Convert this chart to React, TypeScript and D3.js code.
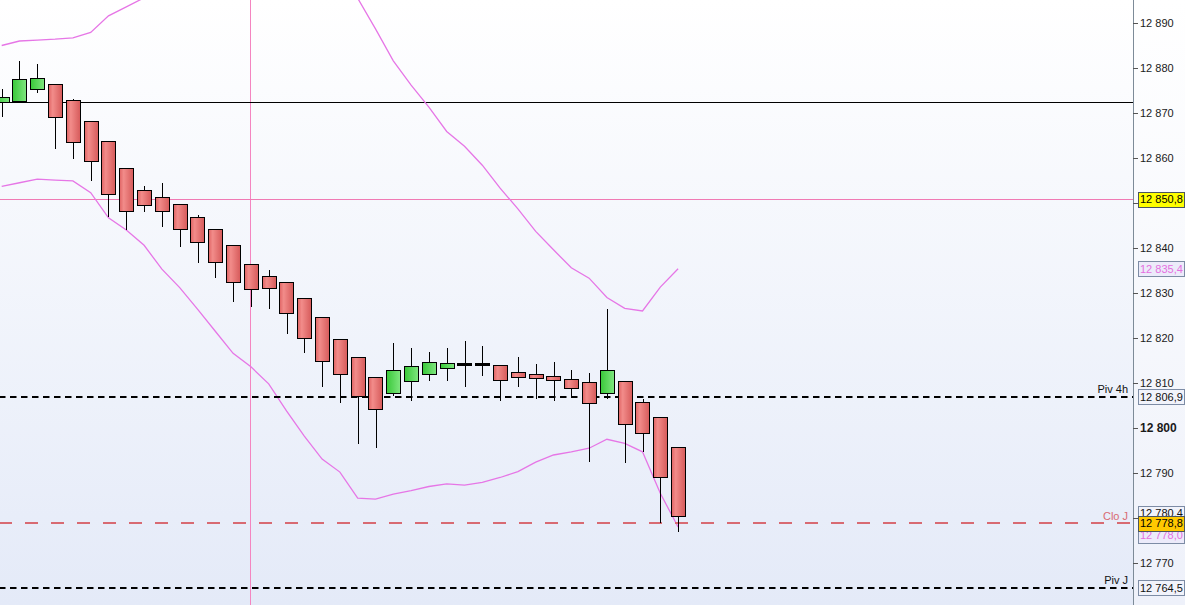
import * as d3 from "d3";

// candle data (oldest -> newest)
const opens = [
  12872.4, 12872.7, 12875.3, 12876.4, 12872.8, 12868.2, 12863.7, 12857.7, 12853.0, 12851.3,
  12849.7, 12846.8, 12844.2, 12840.6, 12836.4, 12833.7, 12832.4, 12829.0, 12824.6, 12819.7,
  12815.7, 12811.3, 12807.7, 12810.4, 12811.9, 12813.3, 12814.1, 12814.1, 12813.9, 12812.4,
  12811.9, 12811.5, 12811.0, 12810.2, 12807.9, 12810.4, 12805.7, 12802.4, 12795.7,
];
const highs = [
  12875.3, 12881.6, 12880.9, 12876.4, 12873.2, 12868.2, 12863.7, 12857.7, 12853.8, 12854.4,
  12849.7, 12847.3, 12844.2, 12840.6, 12836.4, 12835.1, 12832.4, 12829.0, 12824.6, 12819.7,
  12815.7, 12811.3, 12819.0, 12817.8, 12816.9, 12817.8, 12819.3, 12818.2, 12813.9, 12815.7,
  12814.2, 12814.7, 12812.9, 12812.2, 12826.4, 12810.4, 12806.4, 12802.4, 12795.7,
];
const lows = [
  12869.2, 12872.5, 12874.5, 12861.9, 12859.8, 12855.0, 12847.0, 12843.9, 12848.1, 12844.6,
  12840.3, 12836.7, 12833.4, 12828.1, 12827.0, 12826.4, 12821.0, 12816.7, 12809.2, 12805.6,
  12796.4, 12795.5, 12807.2, 12806.1, 12810.5, 12810.5, 12809.2, 12811.6, 12806.1, 12809.1,
  12806.4, 12805.9, 12806.9, 12792.5, 12806.4, 12792.3, 12794.7, 12778.8, 12777.0,
];
const closes = [
  12873.5, 12877.5, 12877.7, 12869.0, 12863.5, 12859.3, 12851.9, 12848.2, 12849.7, 12848.2,
  12844.2, 12841.3, 12836.8, 12832.4, 12830.8, 12831.0, 12825.5, 12820.2, 12814.8, 12811.9,
  12807.0, 12804.2, 12812.8, 12813.7, 12814.6, 12814.4, 12814.1, 12814.1, 12810.6, 12811.4,
  12811.0, 12810.7, 12809.0, 12805.5, 12813.0, 12800.8, 12798.8, 12789.0, 12780.4,
];

// bollinger bands
const upperBand = [
  12885.0, 12886.0, 12886.2, 12886.4, 12886.7, 12887.9, 12891.6, 12893.6, 12895.6, 12898.0,
  12900.0, 12901.5, 12902.5, 12903.0, 12903.0, 12902.5, 12901.5, 12900.0, 12898.5, 12897.0,
  12895.5, 12888.7, 12881.6, 12876.2, 12871.3, 12865.9, 12862.6, 12858.4, 12853.3, 12848.7,
  12843.7, 12839.6, 12835.6, 12833.3, 12829.0, 12826.6, 12826.0, 12831.3, 12835.4,
];
const lowerBand = [
  12853.7, 12854.5, 12855.3, 12855.1, 12854.9, 12852.3, 12846.7, 12844.0, 12840.6, 12835.3,
  12831.2, 12826.4, 12821.5, 12816.6, 12813.6, 12809.8, 12803.8, 12798.2, 12793.1, 12790.2,
  12784.4, 12784.2, 12785.3, 12786.1, 12787.0, 12787.6, 12787.3, 12787.9, 12789.0, 12790.3,
  12792.4, 12794.0, 12794.7, 12795.5, 12797.5, 12796.6, 12794.7, 12785.5, 12778.0,
];

const yTicks = [12890, 12880, 12870, 12860, 12850, 12840, 12830, 12820, 12810, 12800, 12790, 12780, 12770];
const boldTick = 12800;

const blackLevel = 12872.4;
const pinkLevel = 12850.8;
const markerIndex = 14;

const dashedLevels = [
  { value: 12806.9, name: "Piv 4h", color: "#000000", dash: "6.5 4.5", textColor: "#111111" },
  { value: 12778.8, name: "Clo J", color: "#d86a72", dash: "13 13", textColor: "#d86a72" },
  { value: 12764.5, name: "Piv J", color: "#000000", dash: "6.5 4.5", textColor: "#111111" },
];

const priceTags = [
  { value: 12850.8, fill: "#ffff00", stroke: "#4a5560", color: "#000000", nudge: 0 },
  { value: 12835.4, fill: "#ecebfa", stroke: "#7d8ca5", color: "#e56fe0", nudge: 0 },
  { value: 12806.9, fill: "#f1f3fb", stroke: "#7d8ca5", color: "#111111", nudge: 0 },
  { value: 12780.4, fill: "#f1f3fb", stroke: "#7d8ca5", color: "#111111", nudge: -2.7 },
  { value: 12778.0, fill: "#ecebfa", stroke: "#7d8ca5", color: "#e56fe0", nudge: 8.5 },
  { value: 12778.8, fill: "#ffc800", stroke: "#4a5560", color: "#000000", nudge: 0 },
  { value: 12764.5, fill: "#f1f3fb", stroke: "#7d8ca5", color: "#111111", nudge: 0 },
];

const W = 1185;
const H = 605;
const plotRight = 1133;
const font = "'Liberation Sans', Arial, sans-serif";

const locale = d3.formatLocale({ decimal: ",", thousands: " ", grouping: [3], currency: ["", ""] });
const fmtInt = locale.format(",");
const fmtDec = locale.format(",.1f");

export default function App() {
  const x = d3
    .scaleBand<number>()
    .domain(d3.range(64))
    .range([-7.2, plotRight - 1])
    .paddingInner(0.2)
    .paddingOuter(0.1);
  const y = d3.scaleLinear().domain([12770, 12890]).range([563, 23]);
  const bw = x.bandwidth();
  const cx = (i: number) => (x(i) ?? 0) + bw / 2;

  const line = d3
    .line<number>()
    .x((_, i) => cx(i))
    .y((d) => y(d));

  const candles = opens.map((o, i) => ({ o, h: highs[i], l: lows[i], c: closes[i], i }));

  // tick labels hidden behind a price tag are not drawn (as in the platform)
  const tagYs = priceTags.map((p) => y(p.value) + p.nudge);
  const visibleTicks = yTicks.filter((t) => tagYs.every((ty) => Math.abs(ty - y(t)) > 8));

  return (
    <svg
      width={W}
      height={H}
      style={{ position: "absolute", left: 0, top: 0, display: "block" }}
      fontFamily={font}
    >
      <defs>
        <linearGradient id="bg" x1="0" y1="0" x2="0" y2="1">
          <stop offset="0" stopColor="#ffffff" />
          <stop offset="1" stopColor="#e4eaf8" />
        </linearGradient>
        <linearGradient id="bgAxis" x1="0" y1="0" x2="0" y2="1">
          <stop offset="0" stopColor="#ffffff" />
          <stop offset="1" stopColor="#eef1fa" />
        </linearGradient>
        <linearGradient id="red" x1="0" y1="0" x2="1" y2="0">
          <stop offset="0" stopColor="#e06464" />
          <stop offset="0.3" stopColor="#f28c8a" />
          <stop offset="1" stopColor="#d65a5a" />
        </linearGradient>
        <linearGradient id="green" x1="0" y1="0" x2="1" y2="0">
          <stop offset="0" stopColor="#38c838" />
          <stop offset="1" stopColor="#80e680" />
        </linearGradient>
        <clipPath id="plot">
          <rect x={0} y={0} width={plotRight} height={H} />
        </clipPath>
      </defs>

      <rect x={0} y={0} width={plotRight} height={H} fill="url(#bg)" />
      <rect x={plotRight} y={0} width={W - plotRight} height={H} fill="url(#bgAxis)" />

      <g clipPath="url(#plot)" shapeRendering="crispEdges">
        <line x1={Math.round(cx(markerIndex)) - 0.5} x2={Math.round(cx(markerIndex)) - 0.5} y1={0} y2={H} stroke="#f485c0" />
        <line x1={0} x2={plotRight} y1={Math.round(y(pinkLevel)) + 0.5} y2={Math.round(y(pinkLevel)) + 0.5} stroke="#f07ab4" />
        <line x1={0} x2={plotRight} y1={Math.round(y(blackLevel)) + 0.5} y2={Math.round(y(blackLevel)) + 0.5} stroke="#000" />
      </g>

      <g clipPath="url(#plot)" fill="none" stroke="#e676e6" strokeWidth={1.3}>
        <path d={line(upperBand) ?? ""} />
        <path d={line(lowerBand) ?? ""} />
      </g>

      <g clipPath="url(#plot)">
        {dashedLevels.map((d) => (
          <g key={d.name}>
            <line
              x1={0}
              x2={plotRight}
              y1={Math.round(y(d.value))}
              y2={Math.round(y(d.value))}
              stroke={d.color}
              strokeWidth={2}
              strokeDasharray={d.dash}
              strokeDashoffset={1}
            />
            <text
              x={plotRight - 5}
              y={y(d.value) - 3.5}
              textAnchor="end"
              fontSize={11}
              fill={d.textColor}
            >
              {d.name}
            </text>
          </g>
        ))}
      </g>

      <g clipPath="url(#plot)" shapeRendering="crispEdges">
        {candles.map((d) => {
          const xc = Math.round(cx(d.i)) + 0.5;
          const left = Math.round(cx(d.i) - bw / 2) + 0.5;
          const top = y(Math.max(d.o, d.c));
          const bottom = y(Math.min(d.o, d.c));
          const doji = Math.abs(d.o - d.c) < 0.05;
          return (
            <g key={d.i}>
              <line x1={xc} x2={xc} y1={y(d.h)} y2={y(d.l)} stroke="#000" strokeWidth={1.2} />
              {doji ? (
                <rect x={left - 0.5} y={top - 1.3} width={Math.round(bw) + 1} height={2.6} fill="#000" />
              ) : (
                <rect
                  x={left}
                  y={Math.round(top) + 0.5}
                  width={Math.round(bw)}
                  height={Math.max(1, Math.round(bottom - top))}
                  fill={d.c > d.o ? "url(#green)" : "url(#red)"}
                  stroke="#000"
                />
              )}
            </g>
          );
        })}
      </g>

      <g shapeRendering="crispEdges">
        <line x1={plotRight + 0.5} x2={plotRight + 0.5} y1={0} y2={H} stroke="#7d8b98" />
        {yTicks.map((t) => (
          <line key={t} x1={plotRight} x2={plotRight + 5} y1={Math.round(y(t)) + 0.5} y2={Math.round(y(t)) + 0.5} stroke="#555" />
        ))}
      </g>
      {visibleTicks.map((t) => (
        <text
          key={t}
          x={plotRight + 7}
          y={y(t)}
          dy="0.36em"
          fontSize={t === boldTick ? 12 : 11}
          fontWeight={t === boldTick ? "bold" : "normal"}
          fill="#1a1a1a"
        >
          {fmtInt(t)}
        </text>
      ))}

      {priceTags.map((p) => {
        const yc = y(p.value) + p.nudge;
        return (
          <g key={p.value}>
            <rect
              x={plotRight + 5.5}
              y={Math.round(yc - 7.5) + 0.5}
              width={46}
              height={15}
              fill={p.fill}
              stroke={p.stroke}
              shapeRendering="crispEdges"
            />
            <text x={plotRight + 7} y={yc} dy="0.36em" fontSize={11} fill={p.color}>
              {fmtDec(p.value)}
            </text>
          </g>
        );
      })}
    </svg>
  );
}
